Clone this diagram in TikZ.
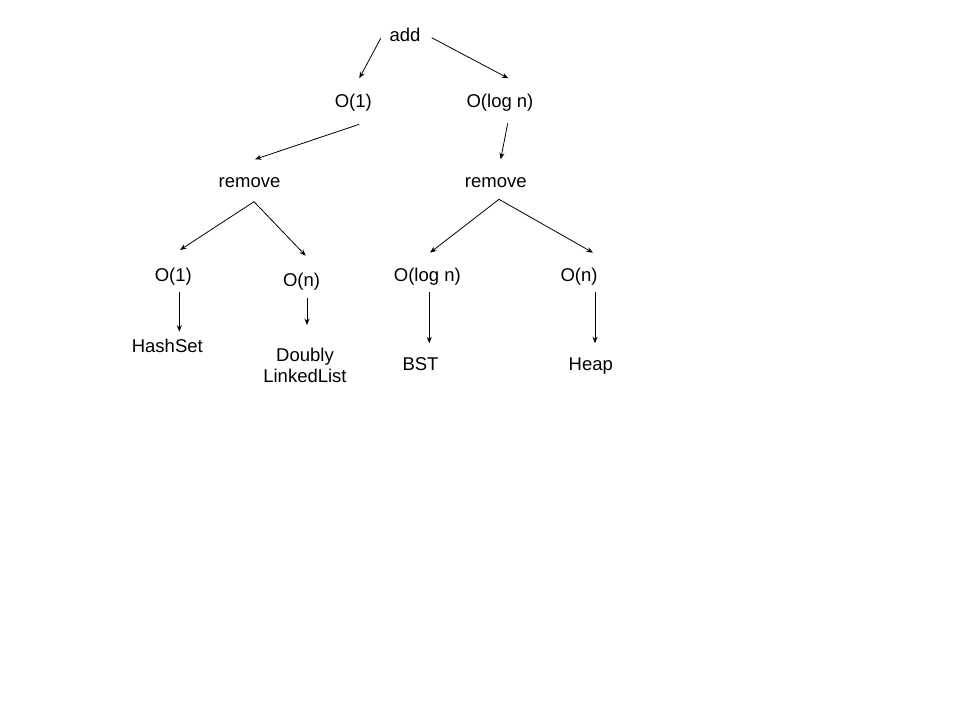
\documentclass[tikz,border=0pt]{standalone}
\usepackage{fontspec}
\setmainfont{Liberation Sans}
\usepackage{tikz}
\usetikzlibrary{calc,arrows.meta}

\begin{document}
\begin{tikzpicture}[x=1pt, y=-1pt,
	every node/.style={inner sep=0pt, outer sep=0pt, font=\fontsize{18.5}{21}\selectfont},
	arr/.style={-{Stealth[length=6.5pt,width=5pt]}, line width=0.8pt}]
	\fill[white] (0,0) rectangle (960,720);
	\useasboundingbox (0,0) rectangle (960,720);
	\node (add) at (405,41.7) [anchor=base] {add};
	\node (o1top) at (353.3,107.3) [anchor=base] {O(1)};
	\node (logtop) at (500,107.3) [anchor=base] {O(log n)};
	\node (remL) at (249.5,187.3) [anchor=base] {remove};
	\node (remR) at (495.8,187.3) [anchor=base] {remove};
	\node (o1L) at (173.3,281.5) [anchor=base] {O(1)};
	\node (onL) at (301.5,286.5) [anchor=base] {O(n)};
	\node (logB) at (427.3,281.7) [anchor=base] {O(log n)};
	\node (onR) at (579,281.7) [anchor=base] {O(n)};
	\node (hash) at (167.3,352.7) [anchor=base] {HashSet};
	\node (dll) at (305,365.8) [align=center] {Doubly\\LinkedList};
	\node (bst) at (420.5,370.7) [anchor=base] {BST};
	\node (heap) at (590.8,370.7) [anchor=base] {Heap};
	% add
	\draw[arr] ($(add.base)+(-24.3,-3.4)$) -- ($(o1top.base)+(6,-29)$);
	\draw[arr] ($(add.base)+(26.7,-4)$) -- ($(logtop.base)+(8.3,-29)$);
	% remove
	\draw[arr] ($(o1top.base)+(6,17)$) -- ($(remL.base)+(5.5,-28)$);
	\draw[arr] ($(logtop.base)+(7.7,16)$) -- ($(remR.base)+(4.9,-28)$);
	\draw[arr] ($(remL.base)+(4.5,14.4)$) -- ($(o1L.base)+(6.7,-31.5)$);
	\draw[arr] ($(remL.base)+(4.5,14.4)$) -- ($(onL.base)+(4.2,-30.8)$);
	\draw[arr] ($(remR.base)+(3.2,12)$) -- ($(logB.base)+(2.7,-29)$);
	\draw[arr] ($(remR.base)+(3.2,12)$) -- ($(onR.base)+(14,-29)$);
	% structures
	\draw[arr] ($(o1L.base)+(6,10.5)$) -- ($(hash.base)+(12,-21)$);
	\draw[arr] ($(onL.base)+(5.5,11.5)$) -- ($(dll.center)+(2,-40.8)$);
	\draw[arr] ($(logB.base)+(2,10)$) -- ($(bst.base)+(8.8,-27.4)$);
	\draw[arr] ($(onR.base)+(16,10)$) -- ($(heap.base)+(4.2,-27.4)$);
\end{tikzpicture}
\end{document}
